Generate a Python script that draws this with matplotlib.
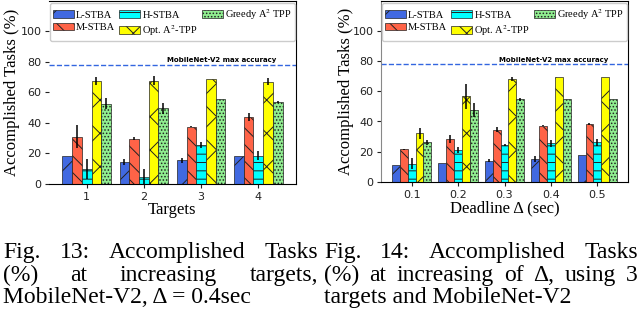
import matplotlib
matplotlib.use("Agg")
import matplotlib.pyplot as plt
import numpy as np

plt.rcParams['mathtext.fontset'] = 'stix'
plt.rcParams['hatch.linewidth'] = 0.7

# ---- data: Fig. 13 (targets) ----
targets = [1, 2, 3, 4]
l_stba_t = [18, 14.5, 15.5, 18]
l_stba_t_err = [0, 2, 1.5, 0]
m_stba_t = [31, 29.5, 37.5, 44]
m_stba_t_err = [7.5, 1, 0.5, 2.5]
h_stba_t = [10, 4.5, 25.5, 18.5]
h_stba_t_err = [6.5, 5, 2, 3]
opt_t = [67.5, 67.5, 68.5, 67]
opt_t_err = [2.5, 3, 0, 2]
greedy_t = [52.5, 49.5, 55.5, 53.5]
greedy_t_err = [3.5, 3.5, 0, 0.5]

# ---- data: Fig. 14 (deadline) ----
deadlines = [0.1, 0.2, 0.3, 0.4, 0.5]
l_stba_d = [11.5, 12.8, 14.2, 15.3, 18]
l_stba_d_err = [0, 0, 1, 1.8, 0]
m_stba_d = [21.5, 28.7, 34.7, 37.2, 38.4]
m_stba_d_err = [0.5, 2.7, 1.5, 0.5, 0.5]
h_stba_d = [12.2, 21.3, 24.6, 25.5, 26.2]
h_stba_d_err = [3.6, 2, 0.5, 2.2, 2.5]
opt_d = [32.2, 56.8, 68.1, 69.2, 69.2]
opt_d_err = [3.8, 8.3, 1, 0, 0]
greedy_d = [26.3, 47.4, 54.6, 55.2, 55.2]
greedy_d_err = [1.6, 4.6, 0.8, 0, 0]

max_accuracy = 78

labels = ['L-STBA', 'M-STBA', 'H-STBA', 'Opt. A$^2$-TPP', 'Greedy A$^2$ TPP']
colors = ['#4169E1', '#FF6347', '#00FFFF', '#FFFF00', '#90EE90']
hatches = ['/', '\\\\', '--', 'x', '.....']

SERIF = 'Liberation Serif'
CAP_SIZE = 17
W, H = 640, 315


def bar_chart(ax, x, series, errs, width, xlabel, xlim):
    x = np.array(x)
    for i, (vals, err) in enumerate(zip(series, errs)):
        pos = x + (i - 2) * width
        ax.bar(pos, vals, width, color=colors[i], edgecolor='#222222', linewidth=0.5,
               hatch=hatches[i], label=labels[i], zorder=2)
        e = np.array(err, dtype=float)
        m = e > 0
        ax.errorbar(pos[m], np.array(vals)[m], yerr=e[m], fmt='none', ecolor='black',
                    elinewidth=1.1, capsize=0, zorder=3)
    ax.axhline(max_accuracy, color='#3366E0', linestyle='--', linewidth=1.0, zorder=1)
    ax.text(0.92, max_accuracy + 1, 'MobileNet-V2 max accuracy', transform=ax.get_yaxis_transform(),
            ha='right', va='bottom', fontsize=5, fontweight='bold')
    ax.set_xlim(*xlim)
    ax.set_ylim(0, 120)
    ax.set_xticks(x)
    ax.set_yticks([0, 20, 40, 60, 80, 100])
    ax.tick_params(labelsize=8, length=3, width=0.8, colors='#222222', pad=2.5)
    ax.set_xlabel(xlabel, family=SERIF, fontsize=12)
    ax.set_ylabel('Accomplished Tasks (%)', family=SERIF, fontsize=12)
    ax.legend(loc='upper center', bbox_to_anchor=(0.5, 1.0), borderaxespad=0.25, ncol=3,
              prop={'family': SERIF, 'size': 7.5}, handlelength=2.0, handleheight=0.7,
              handletextpad=0.2, columnspacing=0.4, labelspacing=0.3, borderpad=0.35,
              edgecolor='#cccccc', framealpha=1)


def caption_line(fig, words, x0, x1, y, justify):
    r = fig.canvas.get_renderer()
    if not justify:
        fig.text(x0 / W, 1 - y / H, ' '.join(words), family=SERIF, fontsize=CAP_SIZE, va='baseline')
        return
    texts = [fig.text(0, 1 - y / H, w, family=SERIF, fontsize=CAP_SIZE, va='baseline') for w in words]
    widths = [t.get_window_extent(r).width for t in texts]
    gap = (x1 - x0 - sum(widths)) / (len(words) - 1)
    x = x0
    for t, w in zip(texts, widths):
        t.set_x(x / W)
        x += w + gap


fig = plt.figure(figsize=(6.4, 3.15), dpi=100)
ax1 = fig.add_axes([49 / W, 1 - 184 / H, 247 / W, 183.5 / H])
ax2 = fig.add_axes([381 / W, 1 - 182 / H, 247 / W, 181.5 / H])

bar_chart(ax1, targets, [l_stba_t, m_stba_t, h_stba_t, opt_t, greedy_t],
          [l_stba_t_err, m_stba_t_err, h_stba_t_err, opt_t_err, greedy_t_err],
          0.17, 'Targets', (0.34, 4.66))
bar_chart(ax2, deadlines, [l_stba_d, m_stba_d, h_stba_d, opt_d, greedy_d],
          [l_stba_d_err, m_stba_d_err, h_stba_d_err, opt_d_err, greedy_d_err],
          0.017, 'Deadline Δ (sec)', (0.034, 0.566))

ax1.spines['left'].set_visible(False)
ax2.spines['left'].set_color('#888888')
ax1.yaxis.set_label_coords(-0.118, 0.5)
ax2.yaxis.set_label_coords(-0.11, 0.5)
ax1.xaxis.set_label_coords(0.5, -0.1)
ax2.xaxis.set_label_coords(0.5, -0.103)

fig.canvas.draw()
caption_line(fig, ['Fig.', '13:', 'Accomplished', 'Tasks'], 3, 318, 258, True)
caption_line(fig, ['(%)', 'at', 'increasing', 'targets,'], 3, 318, 281, True)
caption_line(fig, ['MobileNet-V2,', 'Δ', '=', '0.4sec'], 3, 318, 303, False)
caption_line(fig, ['Fig.', '14:', 'Accomplished', 'Tasks'], 324, 638, 258, True)
caption_line(fig, ['(%)', 'at', 'increasing', 'of', 'Δ,', 'using', '3'], 324, 638, 281, True)
caption_line(fig, ['targets', 'and', 'MobileNet-V2'], 324, 638, 303, False)

fig.savefig('out.png', dpi=100)
